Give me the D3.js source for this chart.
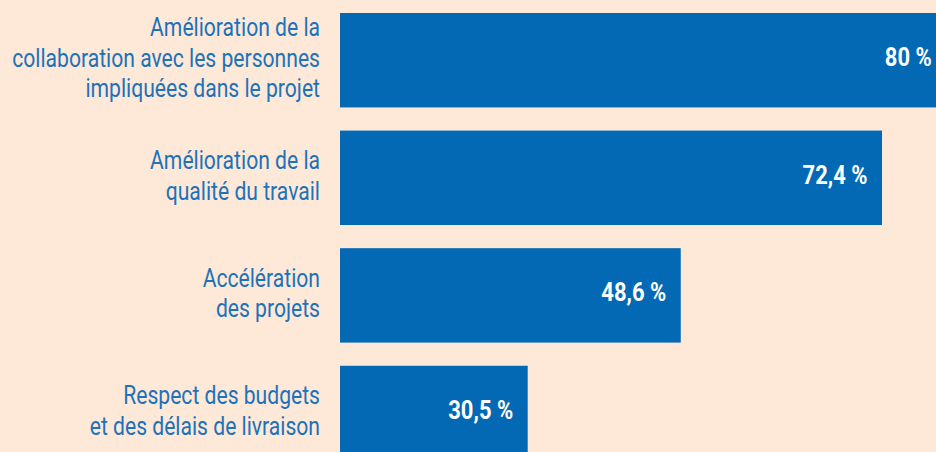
<!DOCTYPE html>
<html lang="fr">
    <head>
        <meta charset="utf-8">
        <title>Bénéfices</title>
        <script type="text/javascript" src="https://d3js.org/d3.v7.min.js"></script>
        <style type="text/css">
            html, body { margin: 0; padding: 0; background: #fee9d8; overflow: hidden; }
            svg { display: block; }
            .cat { font-family: Roboto, "Liberation Sans", sans-serif; font-size: 25px; font-weight: 400; fill: #2072b8; }
            .val { font-family: Roboto, "Liberation Sans", sans-serif; font-size: 25px; font-weight: bold; fill: #ffffff; }
        </style>
    </head>
    <body>
        <div id="chart"></div>
        <script type="text/javascript">

            // data
            var categories = [
                "Amélioration de la\ncollaboration avec les personnes\nimpliquées dans le projet",
                "Amélioration de la\nqualité du travail",
                "Accélération\ndes projets",
                "Respect des budgets\net des délais de livraison"
            ];
            var values = [80, 72.4, 48.6, 30.5];
            var valueLabels = ["80 %", "72,4 %", "48,6 %", "30,5 %"];

            var width = 936, height = 452;
            var barStart = 340;

            var svg = d3.select("#chart")
                .append("svg")
                    .attr("width", width)
                    .attr("height", height);

            svg.append("rect")
                .attr("width", width)
                .attr("height", height)
                .attr("fill", "#fee9d8");

            // x scale: zero sits behind the labels, bars start at barStart
            var x = d3.scaleLinear()
                .domain([0, 100])
                .range([269.8, 1115.4]);

            var y = d3.scaleBand()
                .domain(categories)
                .range([13, 460.2])
                .paddingInner(0.197)
                .paddingOuter(0);

            var rows = svg.selectAll("g.row")
                .data(categories)
                .enter().append("g")
                    .attr("class", "row");

            // bars
            rows.append("rect")
                .attr("x", barStart)
                .attr("y", d => y(d))
                .attr("width", (d, i) => x(values[i]) - barStart)
                .attr("height", y.bandwidth())
                .attr("fill", "#0469b4");

            // category labels, condensed to match the original typeface
            var lineH = 30.7;
            var cat = rows.append("text")
                .attr("class", "cat")
                .attr("text-anchor", "end");
            cat.each(function(d) {
                var lines = d.split("\n");
                var cy = y(d) + y.bandwidth() / 2;
                d3.select(this).selectAll("tspan")
                    .data(lines)
                    .enter().append("tspan")
                        .attr("x", 0)
                        .attr("y", (l, j) => cy + 6.5 + (j - (lines.length - 1) / 2) * lineH)
                        .text(l => l);
            });

            // squeeze horizontally: "collaboration avec les personnes" is 308px wide
            var probe = svg.append("text").attr("class", "cat").text("collaboration avec les personnes");
            var kCat = 308 / probe.node().getComputedTextLength();
            probe.remove();
            cat.attr("transform", "translate(320,0) scale(" + kCat + ",1)");

            // value labels inside bars
            var probe2 = svg.append("text").attr("class", "val").text("72,4 %");
            var kVal = 65 / probe2.node().getComputedTextLength();
            probe2.remove();

            rows.append("text")
                .attr("class", "val")
                .attr("text-anchor", "end")
                .attr("transform", (d, i) =>
                    "translate(" + (x(values[i]) - 14.5) + "," + (y(d) + y.bandwidth() / 2 + 6) + ") scale(" + kVal + ",1)")
                .text((d, i) => valueLabels[i]);
        </script>
    </body>
</html>
